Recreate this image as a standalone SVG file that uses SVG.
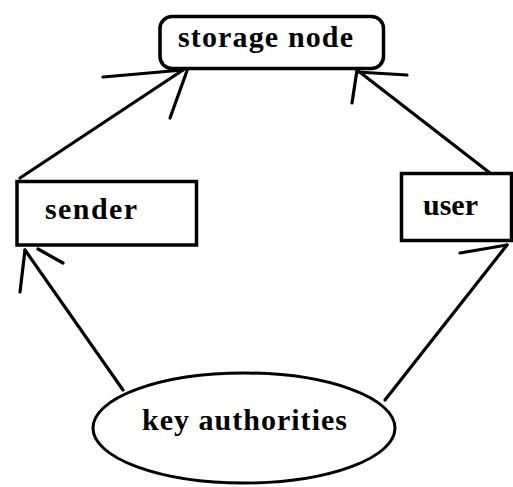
<svg xmlns="http://www.w3.org/2000/svg" width="513" height="487" viewBox="0 0 513 487">
<style>
.box{fill:#fff;stroke:#000;stroke-width:3.5}
.lbl{font-family:"Liberation Serif","Times New Roman",serif;font-weight:bold;font-size:30px;fill:#000}
.ln{stroke:#000;stroke-width:3.2;stroke-linecap:round;fill:none}
</style>
<rect width="513" height="487" fill="#fff"/>
<g id="connectors">
<line class="ln" x1="20" y1="178" x2="183" y2="70"/>
<line class="ln" x1="103" y1="77" x2="183" y2="70"/>
<line class="ln" x1="188" y1="68" x2="170" y2="118"/>
<line class="ln" x1="490" y1="173" x2="357" y2="70"/>
<line class="ln" x1="357" y1="72" x2="407" y2="75"/>
<line class="ln" x1="357" y1="70" x2="352" y2="103"/>
<line class="ln" x1="123" y1="390" x2="25" y2="250"/>
<line class="ln" x1="25" y1="250" x2="20" y2="292"/>
<line class="ln" x1="38" y1="249" x2="63" y2="263"/>
<line class="ln" x1="385" y1="400" x2="507" y2="245"/>
<line class="ln" x1="460" y1="253" x2="507" y2="245"/>
</g>
<g id="storage">
<rect class="box" x="160" y="16.5" width="223.5" height="52" rx="12"/>
<text class="lbl" x="178" y="47" textLength="175" lengthAdjust="spacing">storage node</text>
</g>
<g id="sender">
<rect class="box" x="17" y="181.5" width="179.5" height="63.5"/>
<text class="lbl" x="45" y="219" textLength="92" lengthAdjust="spacing">sender</text>
</g>
<g id="user">
<rect class="box" x="401.5" y="173.5" width="110" height="67"/>
<text class="lbl" x="423" y="215" textLength="55" lengthAdjust="spacing">user</text>
</g>
<g id="key">
<ellipse class="box" cx="244" cy="428" rx="151" ry="55" style="stroke-width:3"/>
<text class="lbl" x="142" y="430" textLength="205" lengthAdjust="spacing">key authorities</text>
</g>
</svg>
